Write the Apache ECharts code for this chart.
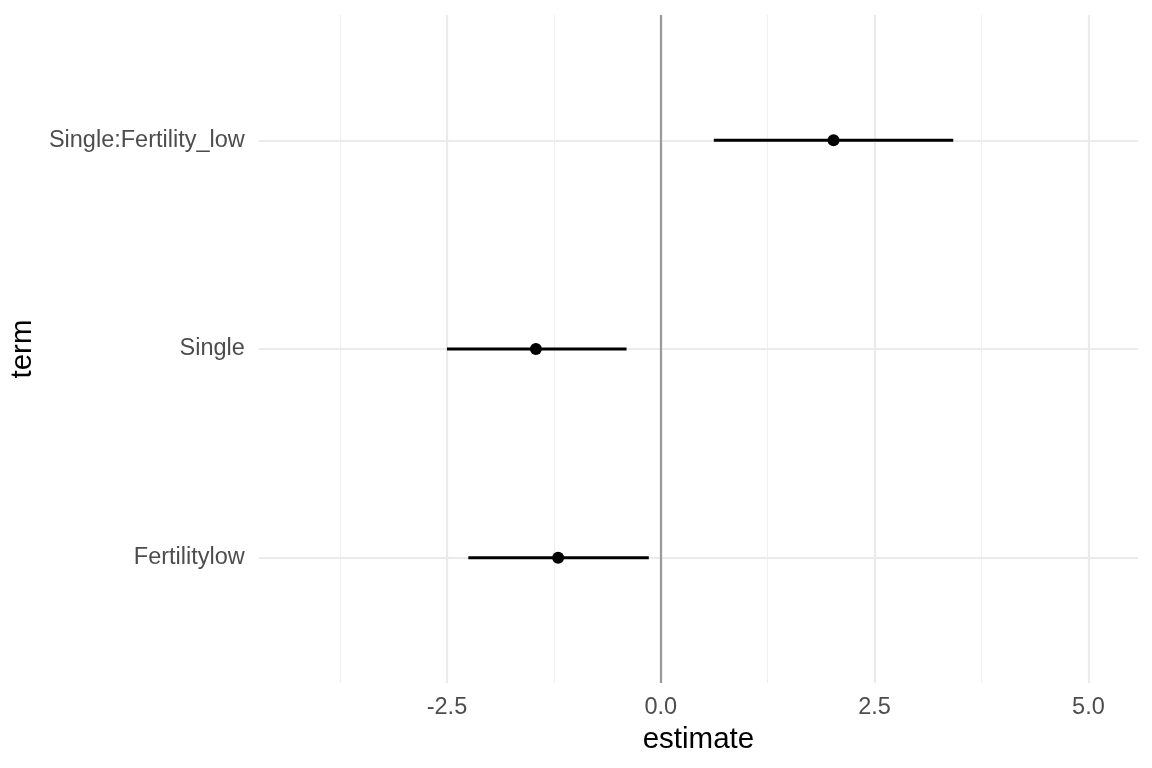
<!DOCTYPE html>
<html>
<head>
<meta charset="utf-8">
<script src="https://cdn.jsdelivr.net/npm/echarts@6/dist/echarts.min.js"></script>
<style>html,body{margin:0;padding:0;background:#fff;}#c{width:1152px;height:768px;}</style>
</head>
<body>
<div id="c"></div>
<script>
const terms = ['Fertilitylow', 'Single', 'Single:Fertility_low'];
const estimates = [-1.20, -1.46, 2.02];
const lows = [-2.25, -2.50, 0.62];
const highs = [-0.14, -0.40, 3.42];
const xMajorTicks = [-2.5, 0, 2.5, 5];
const xMinorTicks = [-3.75, -1.25, 1.25, 3.75];

const yPos = terms.map((t, i) => i + 1);
const chart = echarts.init(document.getElementById('c'));
const FONT = 'Liberation Sans';

const gridSeries = {
  type: 'line', data: [], silent: true, symbol: 'none', z: 0,
  markLine: {
    silent: true, symbol: 'none', label: {show: false}, animation: false, z: 0,
    data: [
      ...xMinorTicks.map(v => ({xAxis: v, lineStyle: {color: '#f0f0f0', width: 1.2, type: 'solid'}})),
      ...xMajorTicks.map(v => ({xAxis: v, lineStyle: {color: '#ebebeb', width: 2.2, type: 'solid'}})),
      ...yPos.map(v => ({yAxis: v, lineStyle: {color: '#ebebeb', width: 2.2, type: 'solid'}})),
      {xAxis: 0, lineStyle: {color: '#999999', width: 2.2, type: 'solid'}}
    ]
  }
};

const barSeries = terms.map((t, i) => ({
  type: 'line', name: t, silent: true, z: 6,
  symbol: 'none', showSymbol: false,
  lineStyle: {color: '#000000', width: 2.8, opacity: 1},
  itemStyle: {color: '#000000'},
  data: [[lows[i], yPos[i]], [highs[i], yPos[i]]]
}));

chart.setOption({
  animation: false,
  backgroundColor: '#ffffff',
  grid: {left: 258, right: 14, top: 15, bottom: 85},
  xAxis: {
    type: 'value', min: -4.70, max: 5.58,
    name: 'estimate', nameLocation: 'middle', nameGap: 41,
    nameTextStyle: {color: '#000', fontSize: 29.5, fontFamily: FONT},
    axisLine: {show: false}, axisTick: {show: false}, splitLine: {show: false},
    axisLabel: {customValues: xMajorTicks, formatter: v => v.toFixed(1), color: '#4d4d4d', fontSize: 23.5, fontFamily: FONT, margin: 13}
  },
  yAxis: {
    type: 'value', min: 0.4, max: 3.6,
    name: 'term', nameLocation: 'middle', nameGap: 219, nameRotate: 90,
    nameTextStyle: {color: '#000', fontSize: 29.5, fontFamily: FONT},
    axisLine: {show: false}, axisTick: {show: false}, splitLine: {show: false},
    axisLabel: {customValues: yPos, formatter: v => terms[Math.round(v) - 1], color: '#4d4d4d', fontSize: 23.5, fontFamily: FONT, margin: 14}
  },
  series: [
    gridSeries,
    ...barSeries,
    {
      type: 'scatter', symbol: 'circle', symbolSize: 12, z: 7, silent: true,
      itemStyle: {color: '#000', opacity: 1},
      data: terms.map((t, i) => [estimates[i], yPos[i]])
    }
  ]
});
</script>
</body>
</html>
